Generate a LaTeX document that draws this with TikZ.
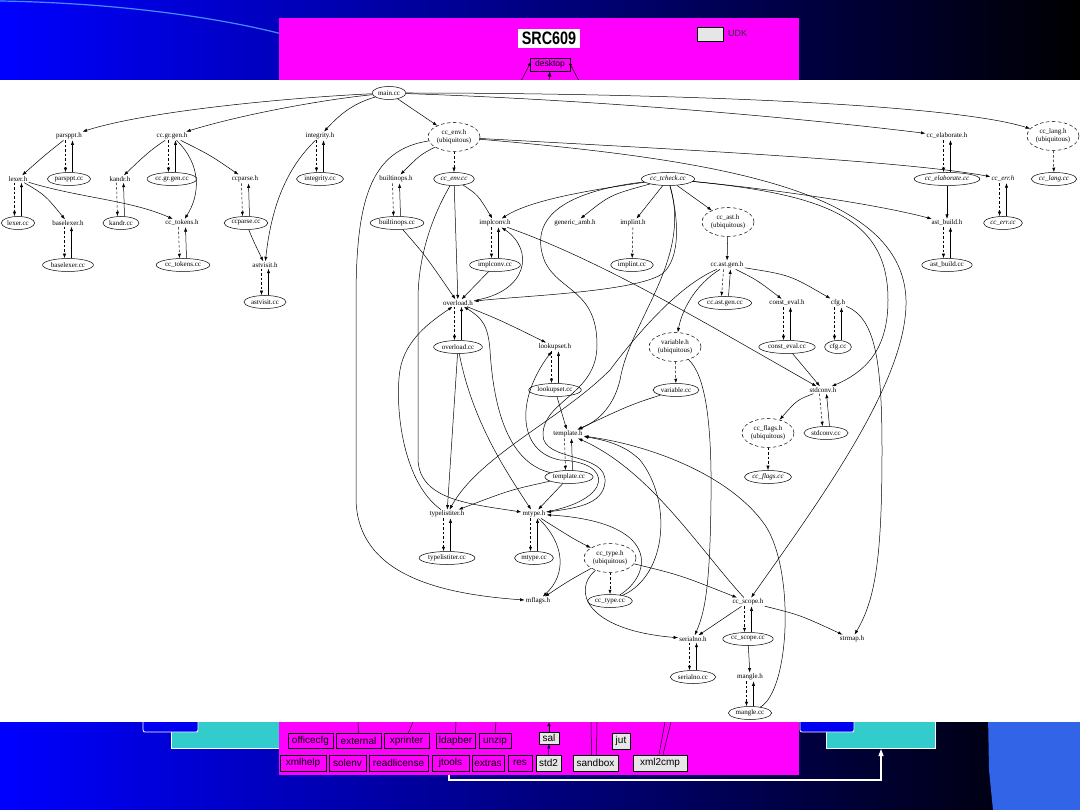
\documentclass[tikz,border=0pt]{standalone}
\usepackage{fontspec}
\setmainfont{Liberation Serif}
\newfontfamily\sansf{Liberation Sans}
\usepackage{graphicx}
\usetikzlibrary{shapes.geometric,arrows.meta}
\definecolor{cyanbx}{RGB}{51,204,204}
\definecolor{magbg}{RGB}{255,0,255}
\definecolor{greybx}{RGB}{230,230,230}
\definecolor{arcblue}{RGB}{70,140,255}
\definecolor{curlblue}{RGB}{50,100,232}
\definecolor{slideblue}{RGB}{0,0,255}
\definecolor{midblue}{RGB}{0,0,120}
\definecolor{boxblue}{RGB}{0,0,240}
\definecolor{udkgray}{RGB}{50,50,50}
\newcommand\gfont{\fontsize{7}{8}\selectfont}
\newcommand\hcpair[2]{%
  \draw[dedg] ([xshift=-3.5pt]#1.south) -- ([xshift=-3.5pt]#2.north);
  \draw[edg] ([xshift=3.5pt]#2.north) -- ([xshift=3.5pt]#1.south);}
\begin{document}
\begin{tikzpicture}[x=1pt,y=-1pt,
  every node/.style={font=\gfont},
  hnode/.style={inner sep=1pt},
  cnode/.style={ellipse, draw, line width=0.5pt, inner xsep=1pt, inner ysep=0pt, minimum height=13pt},
  unode/.style={ellipse, draw, line width=0.5pt, dash pattern=on 3.5pt off 2.5pt, align=center, inner sep=0pt, minimum width=52pt, minimum height=29pt, font=\fontsize{7}{8}\selectfont},
  itl/.style={font=\gfont\itshape},
  edg/.style={line width=0.5pt, -{Latex[length=4.5pt,width=3.2pt]}},
  dedg/.style={edg, dash pattern=on 2.5pt off 2pt},
  bxs/.style={draw, line width=0.8pt, fill=magbg, inner sep=0pt, font=\sansf\fontsize{10}{10}\selectfont},
  gbxs/.style={bxs, fill=greybx},
  gline/.style={line width=0.5pt}
]
\useasboundingbox (0,0) rectangle (1080,810);
% slide background
\shade[left color=slideblue, middle color=midblue, right color=black] (0,0) rectangle (1080,810);
\draw[arcblue, line width=1.2pt] (0,1) .. controls (120,3) and (220,18) .. (282,34);
\fill[curlblue] (988,715) -- (989,770) -- (993,810) -- (1080,810) -- (1080,715) -- cycle;
\filldraw[fill=cyanbx, draw=white, line width=0.8pt] (171,715) rectangle (279,748);
\filldraw[fill=boxblue, draw=white, line width=0.8pt, rounded corners=2pt] (143,715) rectangle (198,732);
\filldraw[fill=cyanbx, draw=white, line width=0.8pt] (826,715) rectangle (935,748);
\filldraw[fill=boxblue, draw=white, line width=0.8pt, rounded corners=2pt] (800,715) rectangle (854,732);
\fill[magbg] (279,18) rectangle (799,775);
% header
\node[fill=white, inner sep=0pt, minimum width=62pt, minimum height=19pt] (src) at (549,38.5) {\scalebox{0.8}[1]{\sansf\bfseries\fontsize{18}{18}\selectfont SRC609}};
\node[draw, fill=greybx, line width=0.6pt, minimum width=26pt, minimum height=14pt, inner sep=0pt] (udkbox) at (710.5,34.5) {};
\node[anchor=west, inner sep=0pt, text=udkgray, font=\sansf\fontsize{9}{9}\selectfont] (udk) at (728,33) {UDK};
\node[draw, fill=magbg, line width=0.8pt, minimum width=40pt, minimum height=13pt, inner sep=0pt, font=\sansf\fontsize{8.5}{8.5}\selectfont] (desk) at (550,64.5) {desktop};
\coordinate (dl) at (521,81);
\coordinate (dr) at (579,81);
\coordinate (dm) at (549,81);
\draw[gline] (desk.west) -- (dl);
\draw[gline] (desk.east) -- (dr);
\fill (desk.west) circle (1.5pt);
\fill (desk.east) circle (1.5pt);
\draw[gline, -{Latex[length=5pt,width=4pt]}] (dm) -- (desk.south);
% bottom boxes
\node[bxs, minimum width=45pt, minimum height=15pt] (officecfg) at (310.5,740.5) {officecfg};
\node[bxs, minimum width=45pt, minimum height=15pt] (external) at (358.5,740.5) {external};
\node[bxs, minimum width=45pt, minimum height=15pt] (xprinter) at (406.5,740.5) {xprinter};
\node[bxs, minimum width=39pt, minimum height=15pt] (ldapber) at (455.5,740.5) {ldapber};
\node[bxs, minimum width=32pt, minimum height=15pt] (unzip) at (495,740.5) {unzip};
\node[gbxs, minimum width=20pt, minimum height=12pt] (sal) at (549,738) {sal};
\node[gbxs, minimum width=18pt, minimum height=16pt] (jut) at (621,741) {jut};
\node[bxs, minimum width=46pt, minimum height=16pt] (xmlhelp) at (303,763) {xmlhelp};
\node[bxs, minimum width=37pt, minimum height=16pt] (solenv) at (347.5,763) {solenv};
\node[bxs, minimum width=59pt, minimum height=16pt] (readlicense) at (398.5,763) {readlicense};
\node[bxs, minimum width=37pt, minimum height=16pt] (jtools) at (450.5,763) {jtools};
\node[bxs, minimum width=32pt, minimum height=16pt] (extras) at (488,763) {extras};
\node[bxs, minimum width=24pt, minimum height=16pt] (res) at (520,763) {res};
\node[gbxs, minimum width=25pt, minimum height=16pt] (stdtwo) at (548.5,763) {std2};
\node[gbxs, minimum width=45pt, minimum height=16pt] (sandbox) at (595.5,763) {sandbox};
\node[gbxs, minimum width=54pt, minimum height=16pt] (xmlcmp) at (660,763) {xml2cmp};
\coordinate (b1) at (358,722);
\coordinate (b2) at (413,722);
\coordinate (b3) at (456,722);
\coordinate (b4) at (496,722);
\coordinate (b5) at (549,722);
\coordinate (b6) at (591,722);
\coordinate (b7) at (597,722);
\coordinate (b8) at (665,722);
\coordinate (b9) at (671,722);
\draw[gline] (b1) -- (external.north);
\draw[gline] (b2) -- ([xshift=2pt]xprinter.north);
\draw[gline] (b3) -- (ldapber.north);
\draw[gline] (b4) -- (unzip.north);
\draw[gline, -{Latex[length=4pt,width=3.5pt]}] (sal.north) -- (b5);
\draw[gline, -{Latex[length=4pt,width=3.5pt]}] (stdtwo.north) -- (sal.south);
\draw[gline] (b6) -- ([xshift=-4pt]sandbox.north);
\draw[gline] (b7) -- ([xshift=1pt]sandbox.north);
\draw[gline] (b8) -- ([xshift=-1pt]xmlcmp.north);
\draw[gline] (b9) -- ([xshift=3pt]xmlcmp.north);
\coordinate (w0) at (449,775);
\coordinate (wc) at (881,780);
\coordinate (w1) at (881,749);
\draw[white, line width=1.1pt, -{Triangle[length=7pt,width=5pt]}] (w0) |- (wc) -- (w1);
% graph area
\fill[white] (0,80) rectangle (1080,722);
% nodes
\node[cnode] (main) at (389,93) {main.cc};
\node[hnode] (parspph) at (69,136) {parsppt.h};
\node[cnode] (parsppcc) at (69,179) {parsppt.cc};
\node[hnode] (ccgrgenh) at (172,136) {cc.gr.gen.h};
\node[cnode] (ccgrgencc) at (172,179) {cc.gr.gen.cc};
\node[hnode] (integrityh) at (320,136) {integrity.h};
\node[cnode] (integritycc) at (320,179) {integrity.cc};
\node[hnode] (lexerh) at (18,179) {lexer.h};
\node[cnode] (lexercc) at (18,223) {lexer.cc};
\node[hnode] (kandrh) at (120,179) {kandr.h};
\node[cnode] (kandrcc) at (121,223) {kandr.cc};
\node[hnode] (ccparseh) at (245,179) {ccparse.h};
\node[cnode] (ccparsecc) at (246,223) {ccparse.cc};
\node[hnode] (baselexerh) at (68,223) {baselexer.h};
\node[cnode] (baselexercc) at (68,265) {baselexer.cc};
\node[hnode] (cctokensh) at (182,223) {cc\_tokens.h};
\node[cnode] (cctokenscc) at (183,265) {cc\_tokens.cc};
\node[hnode] (astvisith) at (265,265) {astvisit.h};
\node[cnode] (astvisitcc) at (265,302) {astvisit.cc};
\node[unode] (ccenvh) at (454,137) {cc\_env.h\\(ubiquitous)};
\node[hnode] (builtinopsh) at (396,179) {builtinops.h};
\node[cnode] (builtinopscc) at (397,223) {builtinops.cc};
\node[cnode,itl] (ccenvcc) at (454,179) {cc\_env.cc};
\node[cnode,itl] (cctcheckcc) at (668,179) {cc\_tcheck.cc};
\node[hnode] (implconvh) at (495,223) {implconv.h};
\node[cnode] (implconvcc) at (495,265) {implconv.cc};
\node[hnode] (genericambh) at (575,223) {generic\_amb.h};
\node[hnode] (implinth) at (633,223) {implint.h};
\node[cnode] (implintcc) at (632,265) {implint.cc};
\node[hnode] (overloadh) at (458,303) {overload.h};
\node[cnode] (overloadcc) at (458,347) {overload.cc};
\node[hnode] (lookupseth) at (555,347) {lookupset.h};
\node[cnode] (lookupsetcc) at (555,390) {lookupset.cc};
\node[hnode] (templateh) at (568,434) {template.h};
\node[cnode] (templatecc) at (569,477) {template.cc};
\node[hnode] (typelistiterh) at (447,514) {typelistiter.h};
\node[cnode] (typelistitercc) at (447,558) {typelistiter.cc};
\node[hnode] (mtypeh) at (534,514) {mtype.h};
\node[cnode] (mtypecc) at (534,558) {mtype.cc};
\node[unode] (cctypeh) at (610,558) {cc\_type.h\\(ubiquitous)};
\node[hnode] (mflagsh) at (538,601) {mflags.h};
\node[cnode] (cctypecc) at (610,601) {cc\_type.cc};
\node[hnode] (serialnoh) at (693,639) {serialno.h};
\node[cnode] (serialnocc) at (693,677) {serialno.cc};
\node[hnode] (ccscopeh) at (748,602) {cc\_scope.h};
\node[cnode] (ccscopecc) at (748,639) {cc\_scope.cc};
\node[hnode] (strmaph) at (852,639) {strmap.h};
\node[hnode] (mangleh) at (750,677) {mangle.h};
\node[cnode, fill=white] (manglecc) at (750,713) {mangle.cc};
\node[hnode] (elabh) at (947,136) {cc\_elaborate.h};
\node[cnode,itl] (elabcc) at (947,179) {cc\_elaborate.cc};
\node[unode] (langh) at (1053,136) {cc\_lang.h\\(ubiquitous)};
\node[cnode,itl] (langcc) at (1054,179) {cc\_lang.cc};
\node[hnode,itl] (errh) at (1003,179) {cc\_err.h};
\node[cnode,itl] (errcc) at (1003,223) {cc\_err.cc};
\node[unode] (asth) at (728,222) {cc\_ast.h\\(ubiquitous)};
\node[hnode] (astbuildh) at (947,223) {ast\_build.h};
\node[cnode] (astbuildcc) at (947,265) {ast\_build.cc};
\node[hnode] (astgenh) at (727,265) {cc.ast.gen.h};
\node[cnode] (astgencc) at (725,303) {cc.ast.gen.cc};
\node[hnode] (constevalh) at (787,303) {const\_eval.h};
\node[cnode] (constevalcc) at (787,347) {const\_eval.cc};
\node[hnode] (cfgh) at (838,303) {cfg.h};
\node[cnode] (cfgcc) at (838,347) {cfg.cc};
\node[unode] (variableh) at (675,347) {variable.h\\(ubiquitous)};
\node[cnode] (variablecc) at (676,390) {variable.cc};
\node[hnode] (stdconvh) at (823,390) {stdconv.h};
\node[cnode] (stdconvcc) at (826,433) {stdconv.cc};
\node[unode] (ccflagsh) at (768,433) {cc\_flags.h\\(ubiquitous)};
\node[cnode,itl] (ccflagscc) at (768,477) {cc\_flags.cc};
% edges: main.cc
\draw[edg] (main) .. controls (300,97) and (150,110) .. (parspph);
\draw[edg] (main) .. controls (320,100) and (240,115) .. (ccgrgenh);
\draw[edg] (main) .. controls (355,103) and (342,112) .. (integrityh);
\draw[edg] (main) -- (ccenvh);
\draw[edg] (main) .. controls (600,100) and (800,118) .. (elabh);
\draw[edg] (main) .. controls (650,93) and (950,103) .. (langh);
% left cluster
\draw[edg] (parspph) .. controls (45,155) .. (lexerh);
\hcpair{parspph}{parsppcc}
\hcpair{lexerh}{lexercc}
\draw[edg] (lexerh) .. controls (45,195) .. (baselexerh);
\draw[edg] (lexerh) .. controls (80,198) and (130,200) .. (cctokensh);
\hcpair{baselexerh}{baselexercc}
\draw[edg] (ccgrgenh) .. controls (150,150) and (140,160) .. (kandrh);
\hcpair{ccgrgenh}{ccgrgencc}
\draw[edg] (ccgrgenh) .. controls (210,155) .. (ccparseh);
\draw[edg] (ccgrgenh) .. controls (202,165) and (200,195) .. (cctokensh);
\hcpair{kandrh}{kandrcc}
\hcpair{cctokensh}{cctokenscc}
\hcpair{ccparseh}{ccparsecc}
\draw[edg] (ccparsecc) .. controls (253,240) .. (astvisith);
\hcpair{integrityh}{integritycc}
\draw[edg] (integrityh) .. controls (290,165) and (272,200) .. (astvisith);
\hcpair{astvisith}{astvisitcc}
% cc_env
\draw[edg] (ccenvh) .. controls (420,155) .. (builtinopsh);
\draw[dedg] (ccenvh) -- (ccenvcc);
\draw[edg] (ccenvh) .. controls (650,148) and (900,160) .. (errh);
\draw[edg] (ccenvh) .. controls (720,160) and (903,190) .. (906,300) .. controls (908,380) and (820,500) .. (ccscopeh);
\draw[edg] (ccenvh) .. controls (370,150) and (356,200) .. (356,300) -- (356,500) .. controls (358,575) and (440,594) .. (mflagsh);
\hcpair{builtinopsh}{builtinopscc}
\draw[edg] (builtinopscc) .. controls (425,255) .. (overloadh);
\draw[edg] (ccenvcc) .. controls (478,195) .. (implconvh);
\draw[edg] (ccenvcc) -- (overloadh);
\draw[edg] (ccenvcc) .. controls (430,220) and (418,260) .. (418,300) -- (418,460) .. controls (420,500) and (470,504) .. (mtypeh);
% implconv
\hcpair{implconvh}{implconvcc}
\draw[edg] (implconvcc) -- (overloadh);
\draw[edg] (overloadh) .. controls (528,292) and (535,250) .. (implconvh);
\draw[edg] (implconvh) .. controls (600,260) and (700,320) .. (stdconvh);
% cc_tcheck
\draw[edg] (cctcheckcc) .. controls (590,190) and (530,200) .. (implconvh);
\draw[edg] (cctcheckcc) .. controls (610,195) .. (genericambh);
\draw[edg] (cctcheckcc) -- (implinth);
\draw[edg] (cctcheckcc) -- (asth);
\draw[edg] (cctcheckcc) .. controls (780,190) and (880,205) .. (astbuildh);
\draw[edg] (cctcheckcc) .. controls (678,215) and (682,258) .. (662,274) .. controls (635,292) and (520,296) .. (overloadh);
\draw[edg] (cctcheckcc) .. controls (830,195) and (888,220) .. (888,300) .. controls (888,345) and (870,370) .. (stdconvh);
\draw[edg] (cctcheckcc) .. controls (692,260) and (630,320) .. (620,380) .. controls (614,405) and (600,420) .. (templateh);
\draw[edg] (cctcheckcc) .. controls (560,192) and (528,220) .. (545,262) .. controls (560,292) and (597,290) .. (597,345) .. controls (597,395) and (543,400) .. (543,435) .. controls (543,462) and (607,452) .. (605,482) .. controls (603,505) and (575,508) .. (mtypeh);
\draw[dedg] (implinth) -- (implintcc);
% right side
\hcpair{elabh}{elabcc}
\draw[edg] (elabcc) -- (astbuildh);
\draw[dedg] (langh) -- (langcc);
\hcpair{errh}{errcc}
\hcpair{astbuildh}{astbuildcc}
% cc_ast
\draw[edg] (asth) -- (astgenh);
\hcpair{astgenh}{astgencc}
\draw[edg] (astgenh) .. controls (757,280) .. (constevalh);
\draw[edg] (astgenh) .. controls (790,275) .. (cfgh);
\draw[edg] (astgenh) .. controls (695,285) and (682,310) .. (variableh);
\draw[edg] (astgenh) .. controls (680,285) and (640,330) .. (610,370) .. controls (560,420) and (480,455) .. (typelistiterh);
\hcpair{constevalh}{constevalcc}
\draw[edg] (constevalcc) -- (stdconvh);
\hcpair{cfgh}{cfgcc}
\draw[edg] (cfgh) .. controls (875,318) and (882,360) .. (882,450) .. controls (882,560) and (875,600) .. (strmaph);
\draw[dedg] (variableh) -- (variablecc);
\draw[edg] (variableh) .. controls (705,375) and (712,420) .. (711,500) .. controls (710,580) and (706,610) .. (serialnoh);
\draw[edg] (variablecc) .. controls (630,405) .. (templateh);
\hcpair{stdconvh}{stdconvcc}
\draw[edg] (stdconvh) .. controls (797,400) .. (ccflagsh);
\draw[dedg] (ccflagsh) -- (ccflagscc);
% overload & template
\hcpair{overloadh}{overloadcc}
\draw[edg] (overloadh) .. controls (500,320) .. (lookupseth);
\draw[edg] (overloadcc) -- (typelistiterh);
\draw[edg] (overloadcc) .. controls (472,420) and (505,470) .. (mtypeh);
\hcpair{lookupseth}{lookupsetcc}
\draw[edg] (lookupsetcc) -- (templateh);
\hcpair{templateh}{templatecc}
\draw[edg] (templatecc) .. controls (505,462) and (493,400) .. (490,350) .. controls (488,325) and (482,318) .. (overloadh);
\draw[edg] (templatecc) .. controls (510,490) .. (typelistiterh);
\draw[edg] (templatecc) -- (mtypeh);
\draw[edg] (typelistiterh) .. controls (400,480) and (395,400) .. (400,370) .. controls (405,340) and (430,322) .. (overloadh);
\hcpair{typelistiterh}{typelistitercc}
\hcpair{mtypeh}{mtypecc}
\draw[edg] (mtypeh) .. controls (572,538) .. (cctypeh);
\draw[edg] (mtypeh) .. controls (566,545) and (566,575) .. (mflagsh);
\draw[edg] (mtypeh) .. controls (612,500) and (615,462) .. (560,460) .. controls (518,452) and (515,400) .. (lookupseth);
% cc_type & scope
\draw[edg] (cctypeh) .. controls (570,580) .. (mflagsh);
\draw[dedg] (cctypeh) -- (cctypecc);
\draw[edg] (cctypecc) .. controls (652,575) and (662,522) .. (mtypeh);
\draw[edg] (cctypecc) .. controls (668,575) and (672,500) .. (640,460) .. controls (625,445) and (605,440) .. (templateh);
\draw[edg] (cctypeh) .. controls (680,575) .. (ccscopeh);
\draw[edg] (cctypeh) .. controls (572,590) and (585,630) .. (serialnoh);
\draw[edg] (ccscopeh) -- (serialnoh);
\draw[edg] (ccscopeh) .. controls (800,615) .. (strmaph);
\hcpair{ccscopeh}{ccscopecc}
\draw[edg] (ccscopecc) -- (mangleh);
\hcpair{mangleh}{manglecc}
\hcpair{serialnoh}{serialnocc}
\draw[edg] (ccscopeh) .. controls (700,550) and (650,470) .. (templateh);
\draw[edg] (manglecc) .. controls (790,690) and (795,570) .. (765,525) .. controls (730,475) and (650,445) .. (templateh);
\end{tikzpicture}
\end{document}
